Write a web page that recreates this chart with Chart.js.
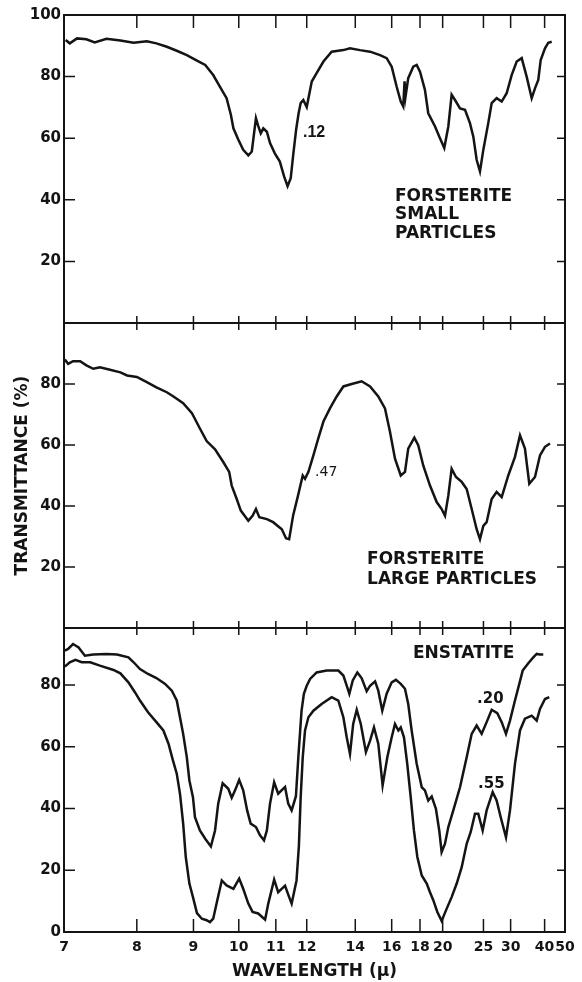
<!DOCTYPE html>
<html>
<head>
<meta charset="utf-8">
<title>Infrared transmittance of forsterite and enstatite</title>
<script src="https://cdn.jsdelivr.net/npm/chart.js@4.4.1/dist/chart.umd.min.js"></script>
<style>
  html, body { margin: 0; padding: 0; background: #fff; }
  #wrap { width: 582px; height: 982px; }
</style>
</head>
<body>
<div id="wrap"><canvas id="spectra" width="582" height="982"></canvas></div>
<script>
// axis ticks
const wavelengthTicks = [7, 8, 9, 10, 11, 12, 14, 16, 18, 20, 25, 30, 40, 50];
const topPanelTicks = [20, 40, 60, 80, 100];
const midPanelTicks = [20, 40, 60, 80];
const lowPanelTicks = [0, 20, 40, 60, 80];
const frameTicks = [20, 40, 60, 80];

// forsterite, small particles (.12)
const smallWl = [7.02, 7.07, 7.16, 7.28, 7.39, 7.55, 7.75, 7.95, 8.16, 8.32, 8.50, 8.68, 8.87, 9.07, 9.24,
  9.41, 9.56, 9.71, 9.81, 9.87, 9.99, 10.11, 10.24, 10.33, 10.39, 10.44, 10.50, 10.57, 10.64, 10.74,
  10.83, 10.97, 11.12, 11.25, 11.36, 11.46, 11.54, 11.64, 11.72, 11.79, 11.88, 12.00, 12.18, 12.36,
  12.62, 12.95, 13.45, 13.75, 14.23, 14.75, 15.30, 15.69, 16.00, 16.32, 16.59, 16.76, 16.85, 16.92,
  17.11, 17.48, 17.74, 18.00, 18.40, 18.68, 19.28, 19.74, 20.16, 20.57, 20.92, 21.29, 21.86, 22.46,
  23.09, 23.54, 24.00, 24.48, 24.98, 25.76, 26.33, 27.20, 28.15, 29.15, 30.23, 31.40, 32.66, 34.01,
  35.50, 36.55, 37.66, 38.52, 40.15, 41.49, 42.99];
const smallT = [91.9, 90.8, 92.4, 92.1, 91.1, 92.3, 91.7, 91.0, 91.5, 90.8, 89.7, 88.4, 87.0, 85.2, 83.8,
  80.5, 76.7, 73.0, 67.6, 63.2, 59.5, 56.2, 54.4, 55.7, 61.6, 66.5, 64.0, 61.6, 63.2, 62.1,
  58.4, 55.1, 52.4, 47.6, 44.4, 47.0, 54.5, 63.0, 68.1, 71.4, 72.4, 70.1, 78.4, 81.1,
  84.9, 88.1, 88.6, 89.2, 88.6, 88.1, 87.0, 86.0, 83.2, 76.7, 71.9, 70.3, 78.5, 73.5,
  79.5, 83.2, 83.8, 81.6, 75.7, 68.1, 63.8, 60.0, 56.8, 63.8, 74.1, 72.4, 69.7, 69.2,
  64.9, 60.5, 53.0, 49.2, 56.2, 64.9, 71.4, 73.0, 71.9, 74.6, 80.5, 84.9, 86.0, 80.0,
  73.0, 76.2, 78.9, 85.4, 89.2, 91.0, 91.3];

// forsterite, large particles (.47)
const largeWl = [7.01, 7.05, 7.11, 7.20, 7.28, 7.37, 7.46, 7.60, 7.75, 7.85, 8.00, 8.16, 8.32, 8.50, 8.62,
  8.80, 8.97, 9.13, 9.27, 9.45, 9.63, 9.77, 9.83, 9.95, 10.05, 10.24, 10.35, 10.44, 10.53, 10.74,
  10.92, 11.18, 11.31, 11.41, 11.54, 11.69, 11.86, 11.94, 12.06, 12.24, 12.42, 12.62, 12.88, 13.16,
  13.45, 13.83, 14.31, 14.75, 15.20, 15.59, 15.89, 16.21, 16.59, 16.88, 17.11, 17.56, 17.86, 18.26,
  18.83, 19.43, 19.90, 20.23, 20.57, 20.92, 21.40, 22.06, 22.67, 23.32, 24.00, 24.48, 24.98, 25.50,
  26.33, 27.20, 28.15, 29.49, 30.99, 32.22, 33.53, 34.77, 36.55, 38.26, 40.15, 42.23];
const largeT = [88.0, 86.6, 87.5, 87.5, 86.1, 85.0, 85.5, 84.7, 83.8, 82.8, 82.3, 80.6, 78.9, 77.3, 75.9,
  73.7, 70.4, 65.4, 61.3, 58.6, 54.5, 51.2, 46.7, 42.3, 38.5, 35.2, 36.8, 39.0, 36.3, 35.7,
  34.7, 32.4, 29.4, 29.1, 37.0, 43.0, 50.0, 48.9, 51.2, 56.6, 62.1, 67.7, 72.0, 75.9,
  79.2, 80.0, 80.9, 79.2, 75.9, 72.0, 64.4, 55.5, 50.0, 51.2, 58.8, 62.4, 59.9, 53.3,
  46.7, 41.3, 39.0, 36.8, 43.4, 52.2, 49.5, 47.9, 45.6, 39.0, 32.4, 29.1, 33.5, 34.7,
  42.3, 44.6, 42.9, 50.0, 56.1, 63.2, 58.8, 47.3, 49.5, 56.6, 59.4, 60.5];

// enstatite, thin film (.20)
const thinWl = [7.01, 7.05, 7.11, 7.18, 7.26, 7.37, 7.55, 7.70, 7.87, 7.95, 8.05, 8.18, 8.32, 8.47, 8.59,
  8.68, 8.74, 8.80, 8.87, 8.92, 8.99, 9.03, 9.13, 9.24, 9.36, 9.45, 9.52, 9.62, 9.75, 9.83,
  9.91, 10.01, 10.11, 10.21, 10.30, 10.44, 10.55, 10.66, 10.74, 10.83, 10.95, 11.07, 11.18, 11.28,
  11.38, 11.49, 11.63, 11.71, 11.82, 11.90, 12.00, 12.12, 12.36, 12.75, 13.23, 13.45, 13.60, 13.72,
  13.88, 14.10, 14.31, 14.57, 14.75, 15.02, 15.20, 15.43, 15.69, 16.00, 16.27, 16.59, 16.88, 17.11,
  17.36, 17.74, 18.14, 18.40, 18.68, 18.98, 19.36, 19.67, 19.90, 20.23, 20.57, 21.10, 21.86, 22.67,
  23.32, 24.00, 24.73, 25.50, 26.33, 27.32, 28.15, 29.01, 29.86, 30.99, 32.04, 32.92, 34.48, 36.00,
  37.12, 38.26, 39.48];
const thinT = [91.2, 91.7, 93.3, 92.2, 89.5, 89.9, 90.1, 89.9, 89.0, 87.4, 85.2, 83.6, 82.3, 80.4, 78.2,
  75.0, 69.6, 64.2, 56.6, 49.1, 43.7, 37.2, 32.9, 30.2, 27.7, 32.9, 41.6, 48.2, 46.4, 43.5,
  45.9, 49.3, 45.9, 39.4, 35.1, 34.0, 31.3, 29.7, 32.9, 41.6, 48.5, 44.8, 46.0, 47.0,
  41.6, 39.4, 44.0, 56.6, 71.7, 77.2, 79.8, 82.0, 84.1, 84.7, 84.7, 83.1, 79.8, 77.2,
  81.5, 84.1, 82.3, 78.0, 79.8, 81.2, 78.2, 71.7, 77.2, 80.9, 81.7, 80.4, 78.8, 73.9,
  65.3, 54.5, 46.9, 45.9, 42.6, 43.9, 39.9, 32.9, 25.9, 28.6, 34.0, 39.4, 46.9, 56.6,
  64.2, 66.9, 64.2, 68.0, 72.0, 70.9, 68.0, 64.2, 68.5, 75.0, 80.4, 84.7, 87.1, 89.0,
  90.1, 89.9, 89.9];

// enstatite, thick film (.55)
const thickWl = [7.01, 7.07, 7.14, 7.22, 7.33, 7.46, 7.65, 7.75, 7.87, 7.97, 8.05, 8.18, 8.32, 8.44, 8.53,
  8.61, 8.68, 8.74, 8.80, 8.85, 8.92, 8.99, 9.07, 9.17, 9.27, 9.34, 9.41, 9.50, 9.60, 9.71,
  9.87, 10.01, 10.11, 10.24, 10.35, 10.50, 10.69, 10.78, 10.95, 11.07, 11.28, 11.41, 11.49, 11.65,
  11.73, 11.79, 11.86, 11.94, 12.06, 12.24, 12.55, 12.95, 13.23, 13.45, 13.60, 13.75, 13.90, 14.07,
  14.27, 14.53, 14.75, 14.96, 15.20, 15.45, 15.73, 16.00, 16.21, 16.43, 16.59, 16.81, 17.04, 17.29,
  17.53, 17.79, 18.14, 18.55, 18.83, 19.12, 19.49, 19.90, 20.33, 20.92, 21.48, 22.06, 22.67, 23.19,
  23.77, 24.23, 24.88, 25.50, 26.50, 27.20, 27.96, 29.01, 29.86, 30.99, 32.22, 33.53, 35.50, 37.12,
  38.26, 40.15, 41.91];
const thickT = [86.0, 87.4, 88.2, 87.4, 87.4, 86.3, 84.9, 83.8, 80.9, 77.7, 75.0, 71.2, 68.0, 65.3, 61.0,
  55.6, 51.3, 44.8, 35.1, 24.3, 15.7, 11.3, 6.1, 4.3, 3.8, 3.2, 4.3, 10.3, 16.7, 15.1,
  14.0, 17.3, 14.0, 9.2, 6.5, 6.0, 4.0, 9.2, 17.0, 12.9, 15.0, 11.3, 9.2, 16.7,
  28.0, 43.7, 56.6, 65.3, 69.6, 71.7, 73.9, 76.1, 75.0, 69.6, 63.1, 57.7, 67.4, 72.0,
  67.4, 58.3, 62.0, 66.3, 61.0, 47.5, 56.6, 63.1, 67.4, 65.3, 66.3, 63.1, 54.5, 43.7,
  32.9, 24.3, 18.3, 15.7, 12.9, 10.3, 6.5, 3.6, 7.0, 11.3, 15.7, 21.0, 28.6, 32.4,
  38.3, 38.3, 32.9, 39.4, 45.3, 42.6, 37.2, 30.7, 39.4, 54.5, 65.3, 69.1, 70.1, 68.5,
  72.3, 75.5, 76.1];

const ink = '#141414';
const yTickFont = { family: 'DejaVu Sans', weight: 'bold', size: 15 };
const xTickFont = { family: 'DejaVu Sans', weight: 'bold', size: 14 };
const titleFont = { family: 'DejaVu Sans', weight: 'bold', size: 17 };

// x axis runs evenly in wavenumber but is labelled in wavelength
class ReciprocalScale extends Chart.LinearScale {
  static id = 'reciprocal';
  static defaults = {};
  buildTicks() {
    return wavelengthTicks.map(v => ({ value: v }));
  }
  getPixelForValue(value) {
    const a = 1 / this.min, b = 1 / this.max;
    return this.getPixelForDecimal((a - 1 / value) / (a - b));
  }
  getValueForPixel(pixel) {
    const a = 1 / this.min, b = 1 / this.max;
    return 1 / (a - this.getDecimalForPixel(pixel) * (a - b));
  }
}
Chart.register(ReciprocalScale);

// box round each panel with inward tick marks
const panelFrame = {
  id: 'panelFrame',
  afterDatasetsDraw(chart) {
    const { ctx, chartArea: { left, right } } = chart;
    const x = chart.scales.x;
    const panels = ['y1', 'y2', 'y3'].map(id => chart.scales[id]);
    ctx.save();
    ctx.strokeStyle = ink;
    ctx.lineWidth = 2;
    panels.forEach(p => ctx.strokeRect(left, p.top, right - left, p.bottom - p.top));
    ctx.lineWidth = 1.5;
    ctx.beginPath();
    panels.forEach(p => {
      frameTicks.forEach(v => {
        const py = p.getPixelForValue(v);
        ctx.moveTo(left, py);
        ctx.lineTo(left + 11, py);
        ctx.moveTo(right, py);
        ctx.lineTo(right - 8, py);
      });
    });
    const top = panels[0].top, bottom = panels[2].bottom;
    wavelengthTicks.slice(1, -1).forEach(w => {
      const px = x.getPixelForValue(w);
      ctx.moveTo(px, top);
      ctx.lineTo(px, top + 13);
      [panels[0].bottom, panels[1].bottom].forEach(b => {
        ctx.moveTo(px, b - 7);
        ctx.lineTo(px, b + 7);
      });
      ctx.moveTo(px, bottom);
      ctx.lineTo(px, bottom - 13);
    });
    ctx.stroke();
    ctx.restore();
  }
};

// sample names and film thicknesses written inside the panels
const panelNotes = {
  id: 'panelNotes',
  afterDatasetsDraw(chart, args, opts) {
    const { ctx } = chart;
    const x = chart.scales.x;
    ctx.save();
    ctx.fillStyle = ink;
    ctx.textAlign = 'left';
    ctx.textBaseline = 'middle';
    opts.notes.forEach(n => {
      const y = chart.scales[n.axis];
      ctx.font = n.font;
      n.lines.forEach((t, i) => {
        ctx.fillText(t, x.getPixelForValue(n.wl), y.getPixelForValue(n.t) + i * (n.lead || 0));
      });
    });
    ctx.restore();
  }
};

const toPoints = (wl, t) => wl.map((w, i) => ({ x: w, y: t[i] }));
const trace = { borderColor: ink, borderWidth: 2.5, pointRadius: 0, tension: 0, fill: false };

function panelAxis(ticks, max, weight, order) {
  return {
    type: 'linear',
    position: 'left',
    stack: 'panels',
    stackWeight: weight,
    weight: order,
    min: 0,
    max: max,
    grid: { display: false, drawTicks: false },
    border: { display: false },
    afterBuildTicks: s => { s.ticks = ticks.map(v => ({ value: v })); },
    ticks: { autoSkip: false, padding: 3, color: ink, font: yTickFont },
    afterFit: s => { s.width = 64; }
  };
}

const midAxis = panelAxis(midPanelTicks, 100, 305, 2);
midAxis.title = {
  display: true,
  text: 'TRANSMITTANCE (%)',
  color: ink,
  font: titleFont,
  padding: { top: 12, bottom: 0 }
};

new Chart(document.getElementById('spectra'), {
  type: 'line',
  data: {
    datasets: [
      { label: 'Forsterite small particles', data: toPoints(smallWl, smallT), yAxisID: 'y1', ...trace },
      { label: 'Forsterite large particles', data: toPoints(largeWl, largeT), yAxisID: 'y2', ...trace },
      { label: 'Enstatite .20', data: toPoints(thinWl, thinT), yAxisID: 'y3', ...trace },
      { label: 'Enstatite .55', data: toPoints(thickWl, thickT), yAxisID: 'y3', ...trace }
    ]
  },
  options: {
    responsive: false,
    animation: false,
    layout: { padding: { top: 15, right: 17, left: 0, bottom: 0 } },
    plugins: {
      legend: { display: false },
      tooltip: { enabled: false },
      panelNotes: {
        notes: [
          { axis: 'y1', wl: 11.87, t: 61.9, lines: ['.12'], font: 'bold 16px "Liberation Sans"' },
          { axis: 'y1', wl: 16.21, t: 41.1, lines: ['FORSTERITE', 'SMALL', 'PARTICLES'], lead: 18.5, font: 'bold 17px "DejaVu Sans"' },
          { axis: 'y2', wl: 12.30, t: 50.9, lines: ['.47'], font: '14px "DejaVu Sans"' },
          { axis: 'y2', wl: 14.59, t: 22.5, lines: ['FORSTERITE', 'LARGE PARTICLES'], lead: 20.5, font: 'bold 17px "DejaVu Sans"' },
          { axis: 'y3', wl: 17.46, t: 90.2, lines: ['ENSTATITE'], font: 'bold 17px "DejaVu Sans"' },
          { axis: 'y3', wl: 24.05, t: 75.3, lines: ['.20'], font: 'bold 15px "DejaVu Sans"' },
          { axis: 'y3', wl: 24.20, t: 48.0, lines: ['.55'], font: 'bold 15px "DejaVu Sans"' }
        ]
      }
    },
    scales: {
      x: {
        type: 'reciprocal',
        position: 'bottom',
        min: 7,
        max: 50,
        grid: { display: false, drawTicks: false },
        border: { display: false },
        ticks: { autoSkip: false, maxRotation: 0, padding: 7, color: ink, font: xTickFont, callback: v => String(v) },
        title: { display: true, text: 'WAVELENGTH (μ)', color: ink, font: titleFont, padding: { top: 0, bottom: 0 } },
        afterFit: s => { s.height = 50; }
      },
      y1: panelAxis(topPanelTicks, 100, 308, 3),
      y2: midAxis,
      y3: panelAxis(lowPanelTicks, 98.5, 304, 1)
    }
  },
  plugins: [panelFrame, panelNotes]
});
</script>
</body>
</html>
